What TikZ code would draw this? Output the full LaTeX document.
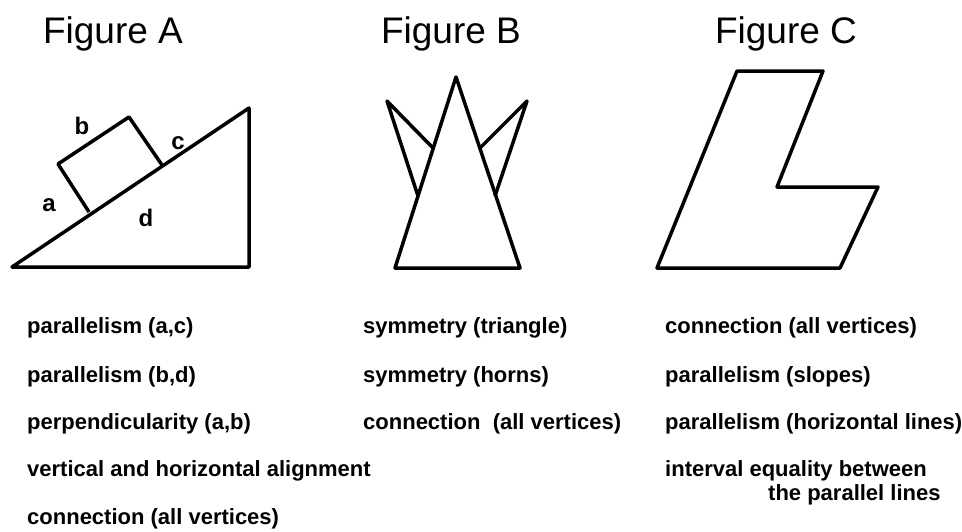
\documentclass[tikz,border=0pt]{standalone}
\usepackage{fontspec}
\setmainfont{Liberation Sans}
\usetikzlibrary{arrows.meta, positioning}

\tikzset{
    figtitle/.style={font=\fontsize{37}{40}\selectfont, anchor=base, inner sep=0pt},
    proptext/.style={font=\bfseries\fontsize{22}{24}\selectfont, anchor=base west, inner sep=0pt},
    sidelabel/.style={font=\bfseries\fontsize{24}{26}\selectfont, inner sep=0pt},
    outline/.style={line width=3.5pt, line join=round}
}

\begin{document}
\begin{tikzpicture}[
    >=Latex, x=1pt, y=-1pt % one unit per pixel, y going down
]
    \useasboundingbox (0,0) rectangle (962,531);

    % Titles
    \node[figtitle] (titleA) at (113,43) {Figure A};
    \node[figtitle] (titleB) at (451,43) {Figure B};
    \node[figtitle] (titleC) at (786,43) {Figure C};

    % Figure A: block on a slope
    \coordinate (slopeL) at (12,267);
    \coordinate (slopeT) at (249,108);
    \coordinate (slopeR) at (249,267);
    \draw[outline] (slopeL) -- (slopeT) -- (slopeR) -- cycle;

    \coordinate (blockBL) at (89,212);
    \coordinate (blockTL) at (58,164);
    \coordinate (blockTR) at (129,117);
    \coordinate (blockBR) at (162,165);
    \draw[outline] (blockBL) -- (blockTL) -- (blockTR) -- (blockBR);

    % Labels of the sides
    \node[sidelabel] (labA) at (49,205) {a};
    \node[sidelabel] (labB) at (82,126) {b};
    \node[sidelabel] (labC) at (178,143) {c};
    \node[sidelabel] (labD) at (146,218) {d};

    % Figure B: triangle with horns
    \coordinate (apex)  at (456,77);
    \coordinate (baseL) at (395,268);
    \coordinate (baseR) at (520,268);
    \draw[outline] (baseL) -- (apex) -- (baseR) -- cycle;

    \coordinate (hornL) at (387,101);
    \coordinate (hornR) at (527,101);
    \draw[outline] (433,148) -- (hornL) -- (418,196);
    \draw[outline] (480,148) -- (hornR) -- (495,196);

    % Figure C: slanted L
    \coordinate (lTL) at (737,71);
    \coordinate (lTR) at (823,71);
    \coordinate (lIn) at (777,187);
    \coordinate (lNR) at (878,187);
    \coordinate (lBR) at (840,268);
    \coordinate (lBL) at (657,268);
    \draw[outline] (lTL) -- (lTR) -- (lIn) -- (lNR) -- (lBR) -- (lBL) -- cycle;

    % Properties of Figure A
    \node[proptext] (propA1) at (27,333) {parallelism (a,c)};
    \node[proptext] (propA2) at (27,382) {parallelism (b,d)};
    \node[proptext] (propA3) at (27,429) {perpendicularity (a,b)};
    \node[proptext] (propA4) at (27,476) {vertical and horizontal alignment};
    \node[proptext] (propA5) at (27,524) {connection (all vertices)};

    % Properties of Figure B
    \node[proptext] (propB1) at (363,333) {symmetry (triangle)};
    \node[proptext] (propB2) at (363,382) {symmetry (horns)};
    \node[proptext] (propB3) at (363,429) {connection\ \ (all vertices)};

    % Properties of Figure C
    \node[proptext] (propC1) at (665,333) {connection (all vertices)};
    \node[proptext] (propC2) at (665,382) {parallelism (slopes)};
    \node[proptext] (propC3) at (665,429) {parallelism (horizontal lines)};
    \node[proptext] (propC4) at (665,476) {interval equality between};
    \node[proptext] (propC5) at (768,500) {the parallel lines};

\end{tikzpicture}
\end{document}
